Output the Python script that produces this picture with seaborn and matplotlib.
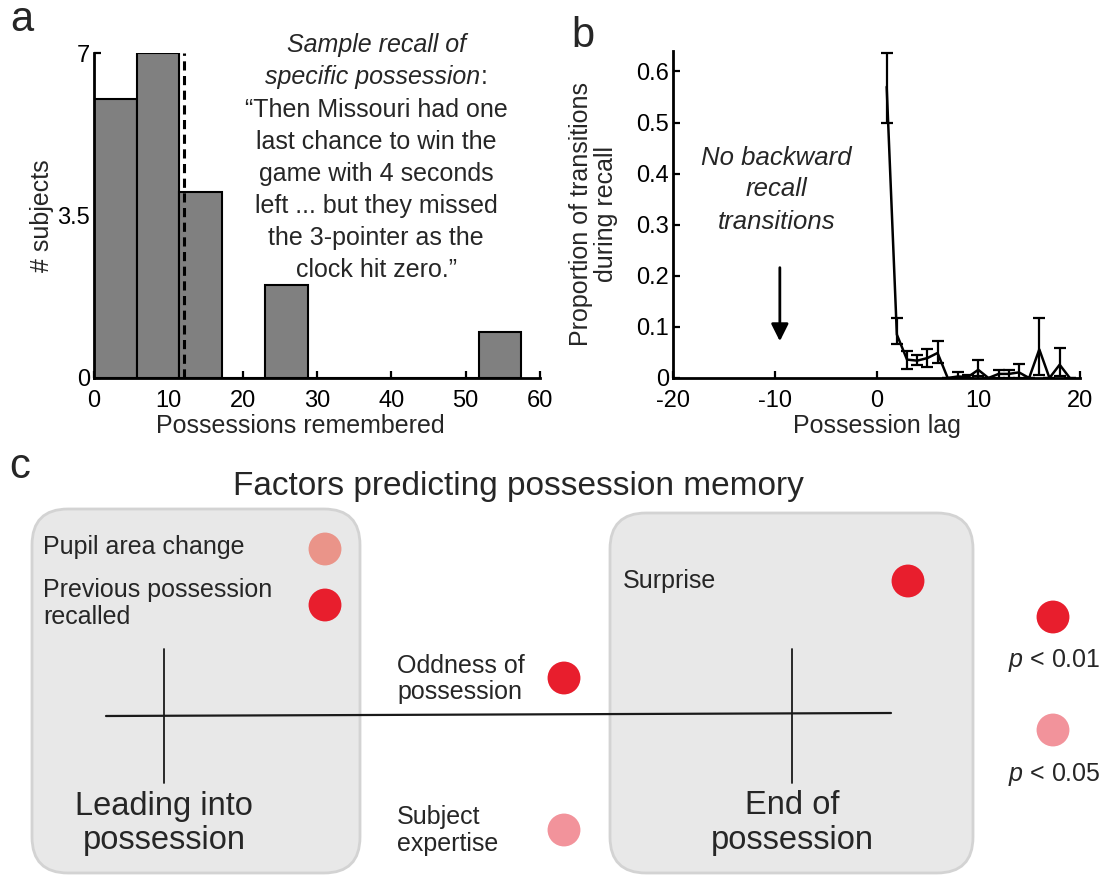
import numpy as np
import pandas as pd
import matplotlib
matplotlib.use("Agg")
import matplotlib.pyplot as plt
from matplotlib.patches import FancyBboxPatch
import seaborn as sns

# ---------------- data ----------------
# (a) number of possessions each subject remembered, binned
bin_edges = [0, 5.75, 11.5, 17.25, 23.0, 28.75, 34.5, 40.25, 46.0, 51.75, 57.5]
subject_counts = [6, 7, 4, 0, 2, 0, 0, 0, 0, 1]
mean_remembered = 12.1

# (b) lag-CRP: proportion of recall transitions by possession lag
lags = [1, 2, 3, 4, 5, 6, 7, 8, 9, 10, 11, 12, 13, 14, 15, 16, 17, 18, 19]
transition_prop = [0.57, 0.085, 0.036, 0.034, 0.039, 0.049, 0.0, 0.003, 0.002,
                   0.016, 0.0, 0.008, 0.008, 0.011, 0.0, 0.056, 0.0, 0.026, 0.0]
err_low = [0.50, 0.067, 0.018, 0.025, 0.022, 0.029, 0.0, 0.0, 0.0,
           0.003, 0.0, 0.0, 0.0, 0.0, 0.0, 0.005, 0.0, 0.003, 0.0]
err_high = [0.637, 0.118, 0.052, 0.045, 0.057, 0.072, 0.0, 0.011, 0.006,
            0.036, 0.0, 0.016, 0.015, 0.027, 0.0, 0.118, 0.0, 0.058, 0.0]

# (c) factors predicting possession memory and their significance
factors = ["Pupil area change", "Previous possession\nrecalled", "Surprise",
           "Oddness of\npossession", "Subject\nexpertise"]
significance = ["p < 0.05", "p < 0.01", "p < 0.01", "p < 0.01", "p < 0.05"]

quote_lines = ["\u201cThen Missouri had one", "last chance to win the",
               "game with 4 seconds", "left ... but they missed",
               "the 3-pointer as the", "clock hit zero.\u201d"]

# ---------------- style ----------------
sns.set_style("ticks")
plt.rcParams["font.family"] = ["Liberation Sans", "DejaVu Sans"]
plt.rcParams["mathtext.fontset"] = "custom"
plt.rcParams["mathtext.it"] = "Liberation Sans:italic"
plt.rcParams["mathtext.rm"] = "Liberation Sans"
plt.rcParams["axes.unicode_minus"] = False

W, H = 1104, 875
fig = plt.figure(figsize=(W / 100, H / 100), dpi=100)


def box(x0, y0, x1, y1):
    return [x0 / W, 1 - y1 / H, (x1 - x0) / W, (y1 - y0) / H]


def style_axes(ax):
    for s in ["top", "right"]:
        ax.spines[s].set_visible(False)
    for s in ["left", "bottom"]:
        ax.spines[s].set_linewidth(2.0)
        ax.spines[s].set_color("black")
    ax.tick_params(direction="in", length=5, width=1.6, labelsize=17,
                   colors="black")
    ax.tick_params(axis="y", pad=3)
    ax.tick_params(axis="x", pad=9)
    ax.set_facecolor("none")


# ---------------- panel a ----------------
ax_a = fig.add_axes(box(94, 53, 540, 378))
centers = [(bin_edges[i] + bin_edges[i + 1]) / 2 for i in range(len(subject_counts))]
sns.histplot(x=centers, weights=subject_counts, bins=bin_edges, ax=ax_a,
             color="#808080", alpha=1, edgecolor="black", linewidth=1.5)
ax_a.axvline(mean_remembered, color="black", lw=2.2, ls=(0, (3.0, 1.8)))
ax_a.set_xlim(0, 60)
ax_a.set_ylim(0, 7)
ax_a.set_xticks([0, 10, 20, 30, 40, 50, 60])
ax_a.set_yticks([0, 3.5, 7])
ax_a.set_yticklabels(["0", "3.5", "7"])
style_axes(ax_a)
ax_a.set_xlabel("Possessions remembered", fontsize=18)
ax_a.set_ylabel("# subjects", fontsize=18, labelpad=2)
ax_a.xaxis.set_label_coords(0.462, -0.11)

# ---------------- panel b ----------------
ax_b = fig.add_axes(box(673, 51, 1080, 378))
lag_df = pd.DataFrame({"lag": lags, "prop": transition_prop})
sns.lineplot(data=lag_df, x="lag", y="prop", ax=ax_b, color="black", lw=1.8)
yerr = [np.array(transition_prop) - np.array(err_low),
        np.array(err_high) - np.array(transition_prop)]
ax_b.errorbar(lags, transition_prop, yerr=yerr, fmt="none", ecolor="black",
              elinewidth=1.6, capsize=4, capthick=1.6)
ax_b.set_xlim(-20, 20)
ax_b.set_ylim(0, 0.64)
ax_b.set_xticks([-20, -10, 0, 10, 20])
ax_b.set_yticks([0, 0.1, 0.2, 0.3, 0.4, 0.5, 0.6])
ax_b.set_yticklabels(["0", "0.1", "0.2", "0.3", "0.4", "0.5", "0.6"])
style_axes(ax_b)
ax_b.set_xlabel("Possession lag", fontsize=18)
ax_b.set_ylabel("Proportion of transitions\nduring recall", fontsize=18,
                linespacing=1.05)
ax_b.yaxis.set_label_coords(-0.135, 0.5)
ax_b.xaxis.set_label_coords(0.5, -0.11)
for txt, yv in zip(["No backward", "recall", "transitions"], [0.431, 0.369, 0.306]):
    ax_b.text(-9.8, yv, txt, ha="center", va="center", fontsize=18.5,
              style="italic")
ax_b.annotate("", xy=(-9.5, 0.072), xytext=(-9.5, 0.216),
              arrowprops=dict(arrowstyle="-|>", color="black", lw=2,
                              mutation_scale=26, shrinkA=0, shrinkB=0))

# ---------------- overlay (texts and panel c) ----------------
ov = fig.add_axes([0, 0, 1, 1])
ov.set_xlim(0, W)
ov.set_ylim(H, 0)
ov.axis("off")

# panel letters
ov.text(22, 20, "a", fontsize=30, ha="center", va="center")
ov.text(583, 36, "b", fontsize=30, ha="center", va="center")
ov.text(20, 467, "c", fontsize=30, ha="center", va="center")

# quoted recall in panel a
ov.text(377, 45, "Sample recall of", fontsize=18, style="italic",
        ha="center", va="center")
spec = ov.text(373, 77, "specific possession", fontsize=18, style="italic",
               ha="center", va="center")
ov.annotate(":", xy=(1, 0), xycoords=spec, fontsize=18, ha="left", va="bottom")
for i, line in enumerate(quote_lines):
    ov.text(376, 110 + 32 * i, line, fontsize=18, ha="center", va="center")

# panel c title
ov.text(518, 487, "Factors predicting possession memory", fontsize=24,
        ha="center", va="center")

# rounded regions
for (x0, y0, x1, y1) in [(32, 509, 360, 873), (610, 513, 973, 873)]:
    ov.add_patch(FancyBboxPatch((x0, y0), x1 - x0, y1 - y0,
                                boxstyle="round,pad=0,rounding_size=36",
                                facecolor="#E8E8E8", edgecolor="#D3D3D3",
                                lw=2, zorder=1))

# timeline with the two event markers
ov.plot([106, 891], [716, 713], color="#1a1a1a", lw=1.6, zorder=2)
for xv in [164, 792]:
    ov.plot([xv, xv], [649, 783], color="#1a1a1a", lw=1.3, zorder=2)

for xc, lines in [(164, ["Leading into", "possession"]), (792, ["End of", "possession"])]:
    for j, t in enumerate(lines):
        ov.text(xc, 806 + 34 * j, t, fontsize=23.5, ha="center", va="center",
                zorder=3)

# factor labels and significance dots
label_pos = {
    "Pupil area change": (43, 547, 325, 549),
    "Previous possession\nrecalled": (43, 590, 325, 605),
    "Surprise": (623, 581, 908, 581),
    "Oddness of\npossession": (397, 666, 564, 678),
    "Subject\nexpertise": (397, 817, 564, 830),
}
factor_colors = {
    "Pupil area change": "#EA9489",
    "Previous possession\nrecalled": "#E81E2D",
    "Surprise": "#E81E2D",
    "Oddness of\npossession": "#E81E2D",
    "Subject\nexpertise": "#F2939B",
}
rows = []
for f, sig in zip(factors, significance):
    tx, ty, dx, dy = label_pos[f]
    for j, t in enumerate(f.split("\n")):
        ov.text(tx, ty + 26.5 * j, t, fontsize=18, ha="left", va="center",
                zorder=3)
    rows.append({"factor": f, "sig": sig, "x": dx, "y": dy})
dot_df = pd.DataFrame(rows)
sns.scatterplot(data=dot_df, x="x", y="y", hue="factor", palette=factor_colors,
                s=560, linewidth=0, legend=False, ax=ov, zorder=4)

# significance key
key_df = pd.DataFrame({"sig": ["p < 0.01", "p < 0.05"], "x": [1053, 1053],
                       "y": [617, 730]})
sns.scatterplot(data=key_df, x="x", y="y", hue="sig",
                palette={"p < 0.01": "#E81E2D", "p < 0.05": "#F2939B"},
                s=560, linewidth=0, legend=False, ax=ov, zorder=4)
ov.text(1054, 661, r"$p$ < 0.01", fontsize=18, ha="center", va="center")
ov.text(1054, 774, r"$p$ < 0.05", fontsize=18, ha="center", va="center")

ov.set_xlim(0, W)
ov.set_ylim(H, 0)
ov.axis("off")

fig.savefig("out.png", dpi=100)
